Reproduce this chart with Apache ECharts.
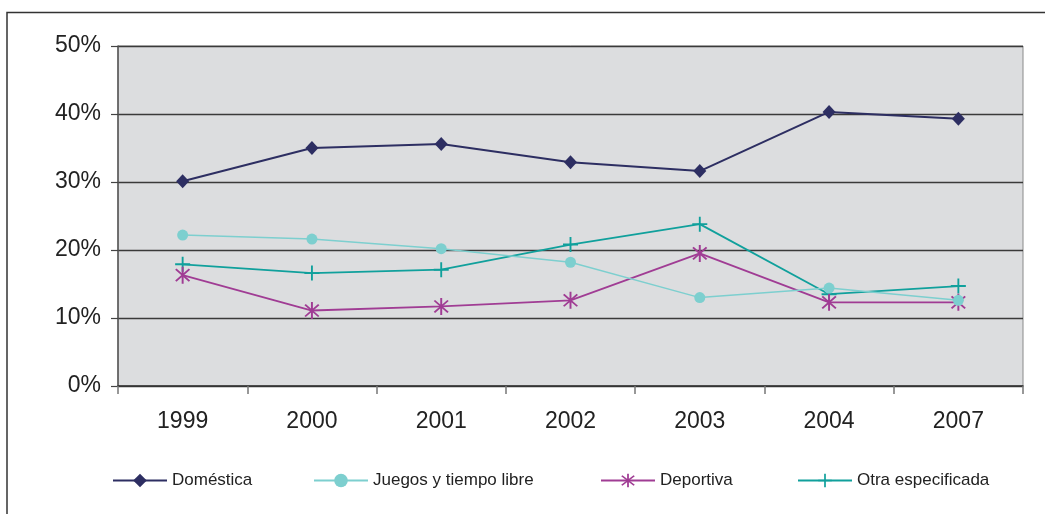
<!DOCTYPE html>
<html><head><meta charset="utf-8">
<script src="https://cdn.jsdelivr.net/npm/echarts@6/dist/echarts.min.js"></script>
<style>html,body{margin:0;padding:0;background:#fff}#c{width:1045px;height:514px}</style>
</head><body><div id="c"></div>
<script>
const years = ['1999','2000','2001','2002','2003','2004','2007'];
const domestica = [30.1, 35.0, 35.6, 32.9, 31.6, 40.3, 39.3];
const juegos = [22.2, 21.6, 20.2, 18.2, 13.0, 14.4, 12.6];
const deportiva = [16.3, 11.1, 11.7, 12.6, 19.5, 12.3, 12.3];
const otra = [17.9, 16.6, 17.1, 20.8, 23.8, 13.5, 14.7];
const names = ['Doméstica', 'Juegos y tiempo libre', 'Deportiva', 'Otra especificada'];
const yTicks = [0, 10, 20, 30, 40, 50];

const FONT = '"Liberation Sans", Arial, sans-serif';
const asterisk = 'path://M-1,-10L1,-10L1,10L-1,10Z M-6.3,-7.7L7.7,6.3L6.3,7.7L-7.7,-6.3Z M6.3,-7.7L7.7,-6.3L-6.3,7.7L-7.7,6.3Z';
const plus = 'path://M-1,-8L1,-8L1,-1L8,-1L8,1L1,1L1,8L-1,8L-1,1L-8,1L-8,-1L-1,-1Z';

const colors = ['#2d2e62', '#7dcfcf', '#a03c94', '#10a09c'];
const symbols = ['diamond', 'circle', asterisk, plus];
const sizes = [[13, 14], 11, [15, 17], [15, 15]];
const widths = [2, 1.5, 1.8, 1.8];
const datas = [domestica, juegos, deportiva, otra];
const legendLeft = [112, 313, 600, 797];

const chart = echarts.init(document.getElementById('c'));
chart.setOption({
  animation: false,
  backgroundColor: '#fff',
  graphic: [{
    type: 'polyline',
    shape: { points: [[7, 514], [7, 12.5], [1045, 12.5]] },
    style: { stroke: '#333', lineWidth: 1.5, fill: null }
  }],
  grid: {
    left: 118, right: 22, top: 46, bottom: 128,
    show: true, backgroundColor: '#dcdddf', borderColor: '#8a8a8a', borderWidth: 1
  },
  legend: names.map((n, i) => ({
    data: [n], left: legendLeft[i], top: 472,
    itemWidth: 54, itemHeight: 17, itemGap: 0, padding: 0,
    textStyle: { fontFamily: FONT, fontSize: 17, color: '#222' }
  })),
  xAxis: {
    type: 'category', data: years, boundaryGap: true,
    axisLine: { lineStyle: { color: '#333', width: 1.5 } },
    axisTick: { show: true, length: 8, lineStyle: { color: '#777', width: 1.5 } },
    axisLabel: { fontFamily: FONT, fontSize: 23, color: '#222', margin: 24 },
    splitLine: { show: false }
  },
  yAxis: {
    type: 'value', min: yTicks[0], max: yTicks[yTicks.length - 1], interval: 10,
    axisLine: { show: true, lineStyle: { color: '#555', width: 1.5 } },
    axisTick: { show: true, length: 7, lineStyle: { color: '#444', width: 1.2 } },
    axisLabel: { fontFamily: FONT, fontSize: 23, color: '#222', margin: 17, formatter: '{value}%' },
    splitLine: { show: true, lineStyle: { color: '#3a3a3a', width: 1.3 } }
  },
  series: names.map((n, i) => ({
    name: n, type: 'line', data: datas[i],
    symbol: symbols[i], symbolSize: sizes[i], showSymbol: true,
    lineStyle: { color: colors[i], width: widths[i] },
    itemStyle: { color: colors[i], borderWidth: 0 },
    z: 10 - i
  }))
});
</script></body></html>
